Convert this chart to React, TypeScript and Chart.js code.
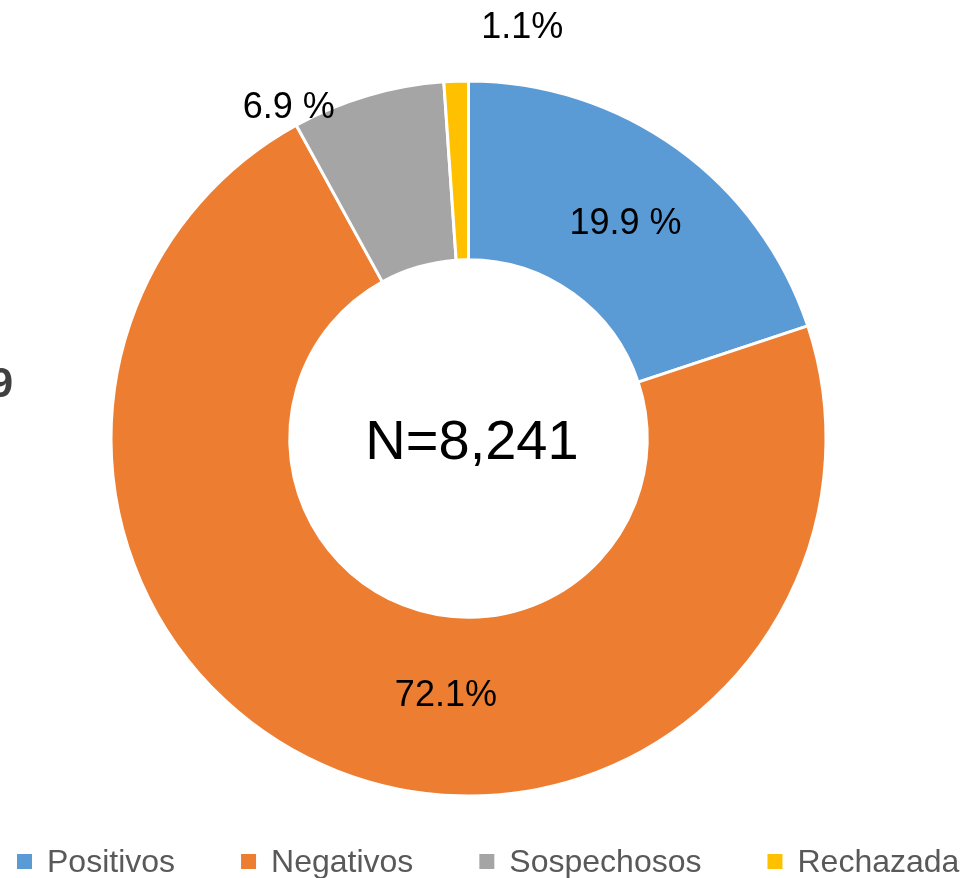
import React, { useEffect, useRef } from "react";
import { Chart, registerables } from "chart.js";

Chart.register(...registerables);

const categories = ["Positivos", "Negativos", "Sospechosos", "Rechazada"];
const values = [19.9, 72.1, 6.9, 1.1];
const valueLabels = ["19.9 %", "72.1%", "6.9 %", "1.1%"];
const colors = ["#5B9BD5", "#ED7D31", "#A5A5A5", "#FFC000"];
const centerText = "N=8,241";
const cutTitle = "9";

// label placement relative to each arc: t = fraction along arc angle, r = radial fraction (0 inner, 1 outer)
const labelPlacement = [
  { t: 0.5, r: 0.5 },
  { t: 0.437, r: 0.431 },
  { t: 0.02, r: 1.12 },
  { t: 2.87, r: 1.33 },
];

const FONT = "'Liberation Sans', Arial, sans-serif";

const overlayPlugin = {
  id: "overlay",
  afterDraw(chart: any) {
    const ctx = chart.ctx;
    const meta = chart.getDatasetMeta(0);
    ctx.save();
    // data labels
    ctx.fillStyle = "#000000";
    ctx.font = `36px ${FONT}`;
    ctx.textAlign = "center";
    ctx.textBaseline = "alphabetic";
    meta.data.forEach((arc: any, i: number) => {
      const p = arc.getProps(["x", "y", "startAngle", "endAngle", "innerRadius", "outerRadius"], true);
      const pl = labelPlacement[i];
      const a = p.startAngle + (p.endAngle - p.startAngle) * pl.t;
      const r = p.innerRadius + (p.outerRadius - p.innerRadius) * pl.r;
      const x = p.x + r * Math.cos(a);
      const y = p.y + r * Math.sin(a);
      ctx.fillText(valueLabels[i], x, y + 36 * 0.358);
    });
    // center text
    const c = meta.data[0];
    ctx.font = `56px ${FONT}`;
    ctx.fillText(centerText, c.x + 3.5, c.y + 20);

    // cut-off title fragment
    ctx.font = `bold 42px ${FONT}`;
    ctx.fillStyle = "#404040";
    ctx.textAlign = "right";
    ctx.fillText(cutTitle, 13, 397);

    // legend
    ctx.font = `32px ${FONT}`;
    ctx.textAlign = "left";
    let x = 17;
    categories.forEach((name, i) => {
      ctx.fillStyle = colors[i];
      ctx.fillRect(x, 854, 15, 15);
      ctx.fillStyle = "#595959";
      ctx.fillText(name, x + 30, 872);
      x = x + 30 + ctx.measureText(name).width + 66;
    });
    ctx.restore();
  },
};

export default function App() {
  const ref = useRef<HTMLCanvasElement | null>(null);
  useEffect(() => {
    if (!ref.current) return;
    const chart = new Chart(ref.current, {
      type: "doughnut",
      data: {
        labels: categories,
        datasets: [
          {
            data: values,
            backgroundColor: colors,
            borderColor: "#ffffff",
            borderWidth: 3,
            hoverOffset: 0,
            offset: 0,
          },
        ],
      },
      options: {
        responsive: false,
        animation: false,
        devicePixelRatio: 1,
        cutout: "50%",
        layout: { padding: { left: 109.5, top: 79.5, right: 137.5, bottom: 80.5 } },
        plugins: {
          legend: { display: false },
          tooltip: { enabled: false },
          title: { display: false },
        },
        events: [],
      },
      plugins: [overlayPlugin],
    });
    return () => chart.destroy();
  }, []);
  return (
    <div style={{ position: "absolute", left: 0, top: 0, width: 965, height: 878, background: "#ffffff" }}>
      <canvas ref={ref} width={965} height={878} style={{ width: 965, height: 878, display: "block" }} />
    </div>
  );
}
